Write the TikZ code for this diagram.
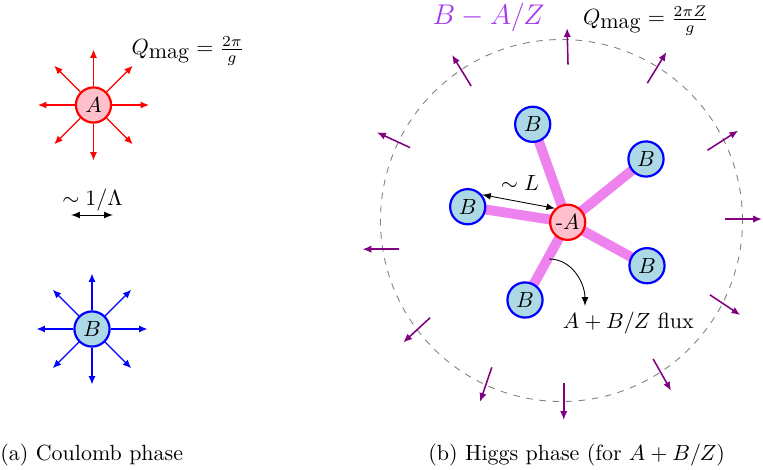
\documentclass[tikz,border=0pt]{standalone}
\usetikzlibrary{calc,backgrounds,arrows.meta}
\definecolor{pinkfill}{RGB}{255,192,203}
\definecolor{bluefill}{RGB}{173,216,230}
\definecolor{bondviolet}{RGB}{238,130,238}
\definecolor{textviolet}{RGB}{165,55,235}

\begin{document}
\begin{tikzpicture}[
x=0.455pt,y=0.455pt,
>=latex,
chargeA/.style={circle,draw=red,fill=pinkfill,line width=1pt,minimum size=16pt,inner sep=0pt},
chargeB/.style={circle,draw=blue,fill=bluefill,line width=1pt,minimum size=16pt,inner sep=0pt},
coulomb/.style={-{Latex[length=3.8pt,width=3.2pt]},line width=0.5pt},
bond/.style={line width=4.5pt,draw=bondviolet},
flux/.style={-{Latex[length=4pt,width=3.3pt]},violet,line width=0.7pt},
caption/.style={anchor=west,inner sep=0pt}
]
\useasboundingbox (0,0) rectangle (763,469);

\node[chargeA] (monoA) at (93.5,364) {$A$};
\node[chargeB] (monoB) at (92,140) {$B$};
\foreach \ang in {0,45,...,315}{
    \draw[coulomb,red] (monoA.\ang) -- ++(\ang:36.8);
    \draw[coulomb,blue] (monoB.\ang) -- ++(\ang:36.8);
}
\node[anchor=base] (qmagA) at (188,414) {$Q_{\textrm{mag}}=\frac{2\pi}{g}$};
\node (coreSize) at (92.5,269) {$\sim 1/\Lambda$};
\coordinate (coreL) at (71,254);
\coordinate (coreR) at (113,254);
\draw[<->] (coreL) -- (coreR);
\node[caption] (capA) at (0,14) {(a) Coulomb phase};

\coordinate (higgsC) at (561.5,248.5);
\draw[gray,dashed] (higgsC) circle (181);
\node[chargeA] (minusA) at (567.7,246.7) {-$A$};
\node[chargeB] (b1) at (532.7,344.7) {$B$};
\node[chargeB] (b2) at (646,310) {$B$};
\node[chargeB] (b3) at (467.7,262.3) {$B$};
\node[chargeB] (b4) at (647,203.3) {$B$};
\node[chargeB] (b5) at (525,169) {$B$};
\begin{pgfonlayer}{background}
\foreach \b in {b1,b2,b3,b4,b5}
    \draw[bond] (minusA.center) -- (\b.center);
\end{pgfonlayer}
\foreach \a/\r/\d in {87.6/156/91.5, 58/162/58.5, 25.7/162/32.6, 0.5/164/0,
    -26.6/166/-33.7, -56.5/166/-60.6, -89.2/163/-90, -115.4/162.5/-108.8,
    -143.5/163.5/-137.3, -170/165/180, 154.3/168/155.2, 123.9/162/121.5}
    \draw[flux] ($(higgsC)+(\a:\r)$) -- ++(\d:36.5);

\draw[<->] (b3.40) -- (minusA.132);
\node (sepL) at (520,285.7) {$\sim L$};
\coordinate (fluxStart) at (549,210);
\coordinate (fluxEnd) at (585,163);
\draw[->] (fluxStart) to[out=0,in=90] (fluxEnd);
\node (fluxLabel) at (628.3,145.7) {$A+B/Z$ flux};

\node[anchor=base,text=textviolet] (higgsCharge) at (488.5,444) {\scalebox{1.08}{\large$B-A/Z$}};
\node[anchor=base] (qmagB) at (646,444) {$Q_{\textrm{mag}}=\frac{2\pi Z}{g}$};
\node[caption] (capB) at (428,14) {(b) Higgs phase (for $A+B/Z$)};

\end{tikzpicture}
\end{document}
